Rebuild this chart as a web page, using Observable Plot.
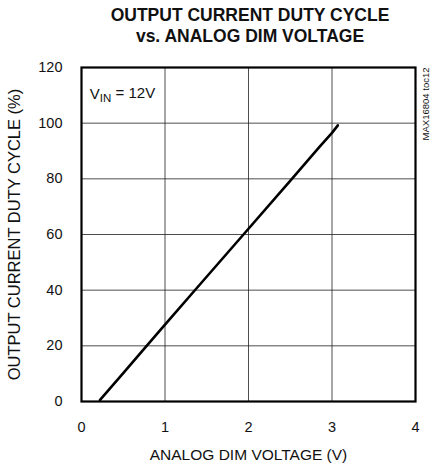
<!DOCTYPE html>
<html>
<head>
<meta charset="utf-8">
<script src="https://cdn.jsdelivr.net/npm/d3@7"></script>
<script src="https://cdn.jsdelivr.net/npm/@observablehq/plot@0.6"></script>
<style>
  html, body { margin: 0; padding: 0; background: #fff; }
  #title { width: 430px; height: 55px; box-sizing: border-box; padding-left: 70px; padding-top: 5px;
    font-family: "Liberation Sans", Arial, sans-serif; font-weight: bold; font-size: 17.5px;
    line-height: 21px; text-align: center; color: #111; }
</style>
</head>
<body>
<div id="title">OUTPUT CURRENT DUTY CYCLE<br>vs. ANALOG DIM VOLTAGE</div>
<div id="chart"></div>
<script>
const voltage = [0.22, 0.5, 0.77, 1.0, 1.35, 1.94, 2.52, 2.85, 3.0, 3.07];
const duty    = [0.5, 10.2, 19.6, 27.6, 39.7, 60.0, 80.0, 91.5, 96.5, 99.2];
const xTicks = [0, 1, 2, 3, 4];
const yTicks = [0, 20, 40, 60, 80, 100, 120];
const xLabel = "ANALOG DIM VOLTAGE (V)";
const yLabel = "OUTPUT CURRENT DUTY CYCLE (%)";
const note = "MAX16804 toc12";

const data = voltage.map((v, i) => ({v, d: duty[i]}));

const plot = Plot.plot({
  width: 430,
  height: 413,
  marginLeft: 81,
  marginRight: 15,
  marginTop: 12,
  marginBottom: 67,
  style: {fontFamily: "'Liberation Sans', Arial, sans-serif", fontSize: "14.5px", color: "#111", background: "#fff"},
  x: {domain: [0, 4], ticks: xTicks, tickFormat: d => String(d), tickSize: 0, tickPadding: 20, label: null},
  y: {domain: [0, 120], ticks: yTicks, tickFormat: d => String(d), tickSize: 0, tickPadding: 19, label: null},
  marks: [
    Plot.gridX(xTicks, {stroke: "#222", strokeOpacity: 0.8, strokeWidth: 1}),
    Plot.gridY(yTicks, {stroke: "#222", strokeOpacity: 0.8, strokeWidth: 1}),
    Plot.line(data, {x: "v", y: "d", stroke: "#000", strokeWidth: 2.6}),
    Plot.frame({stroke: "#000", strokeWidth: 2.2}),
    Plot.text([xLabel], {frameAnchor: "bottom", textAnchor: "middle", dy: 58, fontSize: 15.5}),
    Plot.text([yLabel], {frameAnchor: "left", textAnchor: "middle", rotate: -90, dx: -67, fontSize: 16.5}),
    Plot.text([note], {frameAnchor: "top-right", rotate: -90, dx: 7, textAnchor: "end", fontSize: 9.5}),
    Plot.text([{x: 0.1, y: 110.5}], {x: "x", y: "y", text: () => "VIN = 12V", textAnchor: "start", fontSize: 15, className: "vin"})
  ]
});

// add subscript to V_IN
d3.select(plot).selectAll(".vin text").each(function() {
  const t = d3.select(this);
  t.text(null);
  t.append("tspan").text("V");
  t.append("tspan").attr("dy", "0.3em").attr("font-size", "11.5px").text("IN");
  t.append("tspan").attr("dy", "-0.3em").text(" = 12V");
});

document.getElementById("chart").appendChild(plot);
</script>
</body>
</html>
